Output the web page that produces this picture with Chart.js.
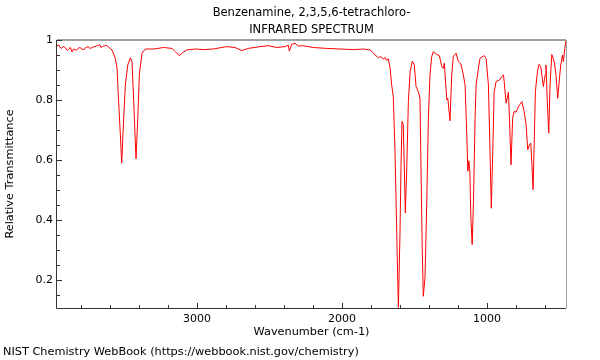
<!DOCTYPE html>
<html>
<head>
<meta charset="utf-8">
<script src="https://cdn.jsdelivr.net/npm/chart.js@4"></script>
<style>
  body { margin: 0; background: #fff; }
  canvas { display: block; }
</style>
</head>
<body>
<canvas id="irChart" width="600" height="360"></canvas>
<script>
// espectro (cm-1, transmitancia relativa)
const wavenumbers = [
  3965, 3955, 3944, 3934, 3924, 3913, 3903, 3893, 3882, 3872, 3862, 3851, 3841, 3830, 3820, 3806,
  3793, 3780, 3765, 3751, 3737, 3724, 3710, 3693, 3677, 3670, 3662, 3652, 3641, 3625, 3608,
  3586, 3563, 3551, 3540, 3528, 3519, 3505, 3494, 3477, 3459, 3448, 3436, 3427, 3420, 3408, 3397,
  3379, 3356, 3298, 3229, 3172, 3149, 3122, 3096, 3068, 3013, 2956, 2887, 2795, 2737, 2691, 2646,
  2565, 2508, 2450, 2393, 2370, 2363, 2346, 2324, 2301, 2266, 2197, 2105, 2013, 1921, 1853,
  1806, 1785, 1772, 1760, 1748, 1737, 1725, 1715, 1703, 1692, 1680,
  1668, 1657, 1646, 1634, 1622, 1611, 1600, 1593, 1586, 1577, 1570,
  1563, 1553, 1542, 1530, 1515, 1501, 1489, 1473, 1462, 1455, 1446, 1439, 1427, 1415, 1404, 1393,
  1381, 1370, 1346, 1328, 1312, 1301, 1294, 1284, 1277, 1270, 1255, 1243, 1232, 1213, 1197, 1179,
  1163, 1151, 1139, 1132, 1125, 1118, 1111, 1102, 1093, 1082, 1075, 1059, 1048, 1020, 1006, 990,
  979, 970, 960, 951, 937, 913, 898, 886, 879, 868, 852, 845, 834, 823, 813, 799,
  783, 759, 744, 730, 719, 707, 698, 689, 682, 673, 666, 652, 641, 629, 611, 599,
  593, 584, 574, 565, 553, 536, 524, 512, 500, 491, 484, 480, 473, 463, 455
];
const transmittance = [
  0.980, 0.984, 0.975, 0.972, 0.978, 0.977, 0.970, 0.966, 0.972, 0.975, 0.960, 0.970, 0.968, 0.966, 0.972, 0.975,
  0.970, 0.968, 0.975, 0.978, 0.972, 0.974, 0.978, 0.980, 0.983, 0.985, 0.975, 0.978, 0.980, 0.982, 0.976,
  0.967, 0.939, 0.907, 0.795, 0.684, 0.590, 0.740, 0.850, 0.917, 0.941, 0.928, 0.795, 0.684, 0.605, 0.740, 0.884,
  0.956, 0.970, 0.970, 0.975, 0.972, 0.961, 0.948, 0.959, 0.967, 0.970, 0.968, 0.970, 0.978, 0.975, 0.965, 0.972,
  0.978, 0.981, 0.975, 0.978, 0.983, 0.963, 0.986, 0.989, 0.980, 0.981, 0.975, 0.972, 0.970, 0.968, 0.970,
  0.967, 0.958, 0.950, 0.946, 0.940, 0.945, 0.942, 0.936, 0.942, 0.932, 0.937,
  0.906, 0.850, 0.812, 0.629, 0.352, 0.110, 0.352, 0.575, 0.729, 0.718, 0.574,
  0.424, 0.575, 0.795, 0.895, 0.930, 0.917, 0.845, 0.828, 0.806, 0.574, 0.297, 0.147, 0.210, 0.463, 0.740, 0.884,
  0.945, 0.961, 0.952, 0.948, 0.911, 0.906, 0.923, 0.850, 0.800, 0.806, 0.731, 0.884, 0.945, 0.956, 0.928, 0.919,
  0.884, 0.850, 0.684, 0.563, 0.598, 0.563, 0.407, 0.319, 0.463, 0.740, 0.850, 0.906, 0.939, 0.948, 0.939, 0.850,
  0.629, 0.440, 0.629, 0.823, 0.862, 0.867, 0.878, 0.884, 0.850, 0.790, 0.826, 0.740, 0.585, 0.740, 0.762, 0.760,
  0.778, 0.795, 0.762, 0.718, 0.635, 0.651, 0.657, 0.574, 0.502, 0.684, 0.828, 0.895, 0.919, 0.911, 0.845, 0.884,
  0.917, 0.795, 0.690, 0.850, 0.952, 0.928, 0.884, 0.806, 0.873, 0.917, 0.934, 0.950, 0.928, 0.972, 1.000
];

// ticks com rotulo
const xTicks = [1000, 2000, 3000];
const yTicks = [0.2, 0.4, 0.6, 0.8, 1];

const xMin = 455, xMax = 3965;
const yMin = 0.108, yMax = 1.0;

const fonte = 'DejaVu Sans, sans-serif';

// moldura, ticks internos e textos
const molduraPlugin = {
  id: 'moldura',
  afterDraw(chart) {
    const ctx = chart.ctx;
    const a = chart.chartArea;
    const xs = chart.scales.x, ys = chart.scales.y;
    ctx.save();

    // topo e direita cinza
    ctx.strokeStyle = '#a0a0a0';
    ctx.lineWidth = 2;
    ctx.beginPath();
    ctx.moveTo(a.left, a.top);
    ctx.lineTo(a.right, a.top);
    ctx.stroke();
    ctx.lineWidth = 1;
    ctx.beginPath();
    ctx.moveTo(a.right + 0.5, a.top);
    ctx.lineTo(a.right + 0.5, a.bottom);
    ctx.stroke();

    // eixos esquerdo e inferior
    ctx.strokeStyle = '#333';
    ctx.lineWidth = 1;
    ctx.beginPath();
    ctx.moveTo(a.left - 0.5, a.top);
    ctx.lineTo(a.left - 0.5, a.bottom + 0.5);
    ctx.lineTo(a.right, a.bottom + 0.5);
    ctx.stroke();

    // ticks x (a cada 200, maiores a cada 1000)
    ctx.beginPath();
    for (let v = 600; v <= 3800; v += 200) {
      const px = Math.round(xs.getPixelForValue(v)) + 0.5;
      const len = v % 1000 === 0 ? 5 : 3;
      ctx.moveTo(px, a.bottom);
      ctx.lineTo(px, a.bottom - len);
    }
    // ticks y (a cada 0.05, maiores a cada 0.2)
    for (let i = 3; i <= 20; i++) {
      const v = i * 0.05;
      const py = Math.round(ys.getPixelForValue(v)) + 0.5;
      const len = i % 4 === 0 ? 5 : 3;
      ctx.moveTo(a.left, py);
      ctx.lineTo(a.left + len, py);
    }
    ctx.stroke();

    // titulos
    ctx.fillStyle = '#000';
    ctx.font = '11.5px ' + fonte;
    ctx.textAlign = 'center';
    ctx.textBaseline = 'middle';
    const cx = (a.left + a.right) / 2;
    ctx.fillText('Benzenamine, 2,3,5,6-tetrachloro-', cx, 13);
    ctx.fillText('INFRARED SPECTRUM', cx, 30);

    ctx.font = '11.3px ' + fonte;
    ctx.fillText('Wavenumber (cm-1)', cx, 332);

    ctx.save();
    ctx.translate(10, (a.top + a.bottom) / 2);
    ctx.rotate(-Math.PI / 2);
    ctx.fillText('Relative Transmittance', 0, 0);
    ctx.restore();

    ctx.textAlign = 'left';
    ctx.fillText('NIST Chemistry WebBook (https://webbook.nist.gov/chemistry)', 3, 352);
    ctx.restore();
  }
};

const ctx = document.getElementById('irChart').getContext('2d');
const irChart = new Chart(ctx, {
  type: 'line',
  data: {
    datasets: [{
      data: wavenumbers.map((w, i) => ({ x: w, y: transmittance[i] })),
      borderColor: '#ff0000',
      borderWidth: 1,
      pointRadius: 0,
      tension: 0,
      fill: false
    }]
  },
  options: {
    responsive: false,
    animation: false,
    devicePixelRatio: 1,
    layout: { padding: { top: 40, right: 34, left: 0, bottom: 0 } },
    plugins: {
      legend: { display: false },
      tooltip: { enabled: false }
    },
    scales: {
      x: {
        type: 'linear',
        reverse: true,
        min: xMin,
        max: xMax,
        grid: { display: false, drawTicks: false },
        border: { display: false },
        afterBuildTicks(scale) { scale.ticks = xTicks.map(v => ({ value: v })); },
        ticks: {
          padding: 5,
          color: '#000',
          font: { family: fonte, size: 11 },
          maxRotation: 0,
          autoSkip: false,
          callback: v => String(v)
        },
        afterFit(scale) { scale.height = 52; }
      },
      y: {
        min: yMin,
        max: yMax,
        grid: { display: false, drawTicks: false },
        border: { display: false },
        afterBuildTicks(scale) { scale.ticks = yTicks.map(v => ({ value: v })); },
        ticks: {
          padding: 4,
          color: '#000',
          font: { family: fonte, size: 11 },
          autoSkip: false,
          callback: v => String(v)
        },
        afterFit(scale) { scale.width = 57; }
      }
    }
  },
  plugins: [molduraPlugin]
});
</script>
</body>
</html>
